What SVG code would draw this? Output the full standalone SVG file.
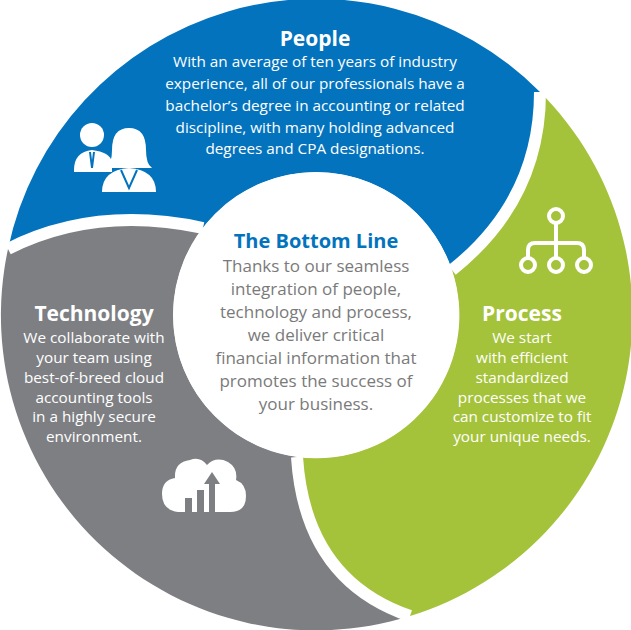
<svg xmlns="http://www.w3.org/2000/svg" width="631" height="630" viewBox="0 0 631 630">
<style>
.t{font-family:"Open Sans","Liberation Sans",sans-serif;text-anchor:middle}
.h{font-weight:bold;font-size:21px;fill:#fff}
.b{font-size:15.3px;fill:#fff}
.c{font-size:17px;fill:#7a7a7a}
.gap{fill:none;stroke:#fff;stroke-width:12}
</style>
<rect width="631" height="630" fill="#fff"/>
<g id="people">
<path d="M8,249 A315,315 0 0 1 540,92 Q540,200 452,270 A143,143 0 0 0 203,228 Q95,205 8,249 Z" fill="#0373BE"/>
<text class="t h" x="315" y="46">People</text>
<text class="t b"><tspan x="315" y="67">With an average of ten years of industry</tspan><tspan x="315" y="89">experience, all of our professionals have a</tspan><tspan x="315" y="111">bachelor’s degree in accounting or related</tspan><tspan x="315" y="133">discipline, with many holding advanced</tspan><tspan x="315" y="154">degrees and CPA designations.</tspan></text>
<g fill="#fff">
<circle cx="92" cy="135" r="12"/>
<path d="M74,170 Q74,152 92,150 Q110,152 112,162 L112,172 L74,172 Z"/>
<path d="M112,150 Q112,128 129,128 Q146,128 146,150 Q146,164 152,168 L106,168 Q112,164 112,150 Z"/>
<path d="M102,192 Q102,170 129,168 Q156,170 156,192 Z"/>
</g>
<path d="M121,170 L129,188 L137,170" fill="none" stroke="#0373BE" stroke-width="2"/>
<path d="M90,152 L92,168 L94,152" fill="none" stroke="#0373BE" stroke-width="2"/>
</g>
<g id="process">
<path d="M540,92 A315,315 0 0 1 410,616 Q305,580 297,457 A143,143 0 0 0 452,270 Q540,200 540,92 Z" fill="#A5C33A"/>
<g fill="none" stroke="#fff" stroke-width="4">
<circle cx="556" cy="216" r="7"/>
<circle cx="528" cy="265" r="7"/>
<circle cx="556" cy="265" r="7"/>
<circle cx="584" cy="265" r="7"/>
<path d="M556,223 V258 M528,258 V250 Q528,243 535,243 H577 Q584,243 584,250 V258"/>
</g>
<text class="t h" x="522" y="321">Process</text>
<text class="t b"><tspan x="522" y="343">We start</tspan><tspan x="522" y="363">with efficient</tspan><tspan x="522" y="383">standardized</tspan><tspan x="522" y="403">processes that we</tspan><tspan x="522" y="422">can customize to fit</tspan><tspan x="522" y="442">your unique needs.</tspan></text>
</g>
<g id="technology">
<path d="M410,616 A315,315 0 0 1 8,249 Q95,205 203,228 A143,143 0 0 0 297,457 Q305,580 410,616 Z" fill="#7E7F83"/>
<text class="t h" x="94" y="321">Technology</text>
<text class="t b"><tspan x="94" y="343">We collaborate with</tspan><tspan x="94" y="363">your team using</tspan><tspan x="94" y="383">best-of-breed cloud</tspan><tspan x="94" y="403">accounting tools</tspan><tspan x="94" y="422">in a highly secure</tspan><tspan x="94" y="442">environment.</tspan></text>
<path d="M178,512 Q162,510 162,494 Q162,480 175,478 Q174,462 190,460 Q200,456 207,465 Q216,456 228,462 Q238,468 236,480 Q246,484 246,496 Q246,512 230,512 Z" fill="#fff"/>
<g fill="#7E7F83">
<rect x="185" y="498" width="7" height="14"/>
<rect x="197" y="490" width="7" height="22"/>
<path d="M209,512 V484 H204 L212,472 L220,484 H215 V512 Z"/>
</g>
</g>
<g id="connectors">
<path class="gap" d="M540,92 Q540,200 452,270"/>
<path class="gap" d="M8,249 Q95,205 203,228"/>
<path class="gap" d="M410,616 Q305,580 297,457"/>
</g>
<g id="center">
<circle cx="316" cy="315" r="143" fill="#fff"/>
<text class="t" x="316" y="248" font-size="20" font-weight="bold" fill="#0373BE">The Bottom Line</text>
<text class="t c"><tspan x="316" y="272">Thanks to our seamless</tspan><tspan x="316" y="295">integration of people,</tspan><tspan x="316" y="318">technology and process,</tspan><tspan x="316" y="341">we deliver critical</tspan><tspan x="316" y="364">financial information that</tspan><tspan x="316" y="387">promotes the success of</tspan><tspan x="316" y="410">your business.</tspan></text>
</g>
</svg>
